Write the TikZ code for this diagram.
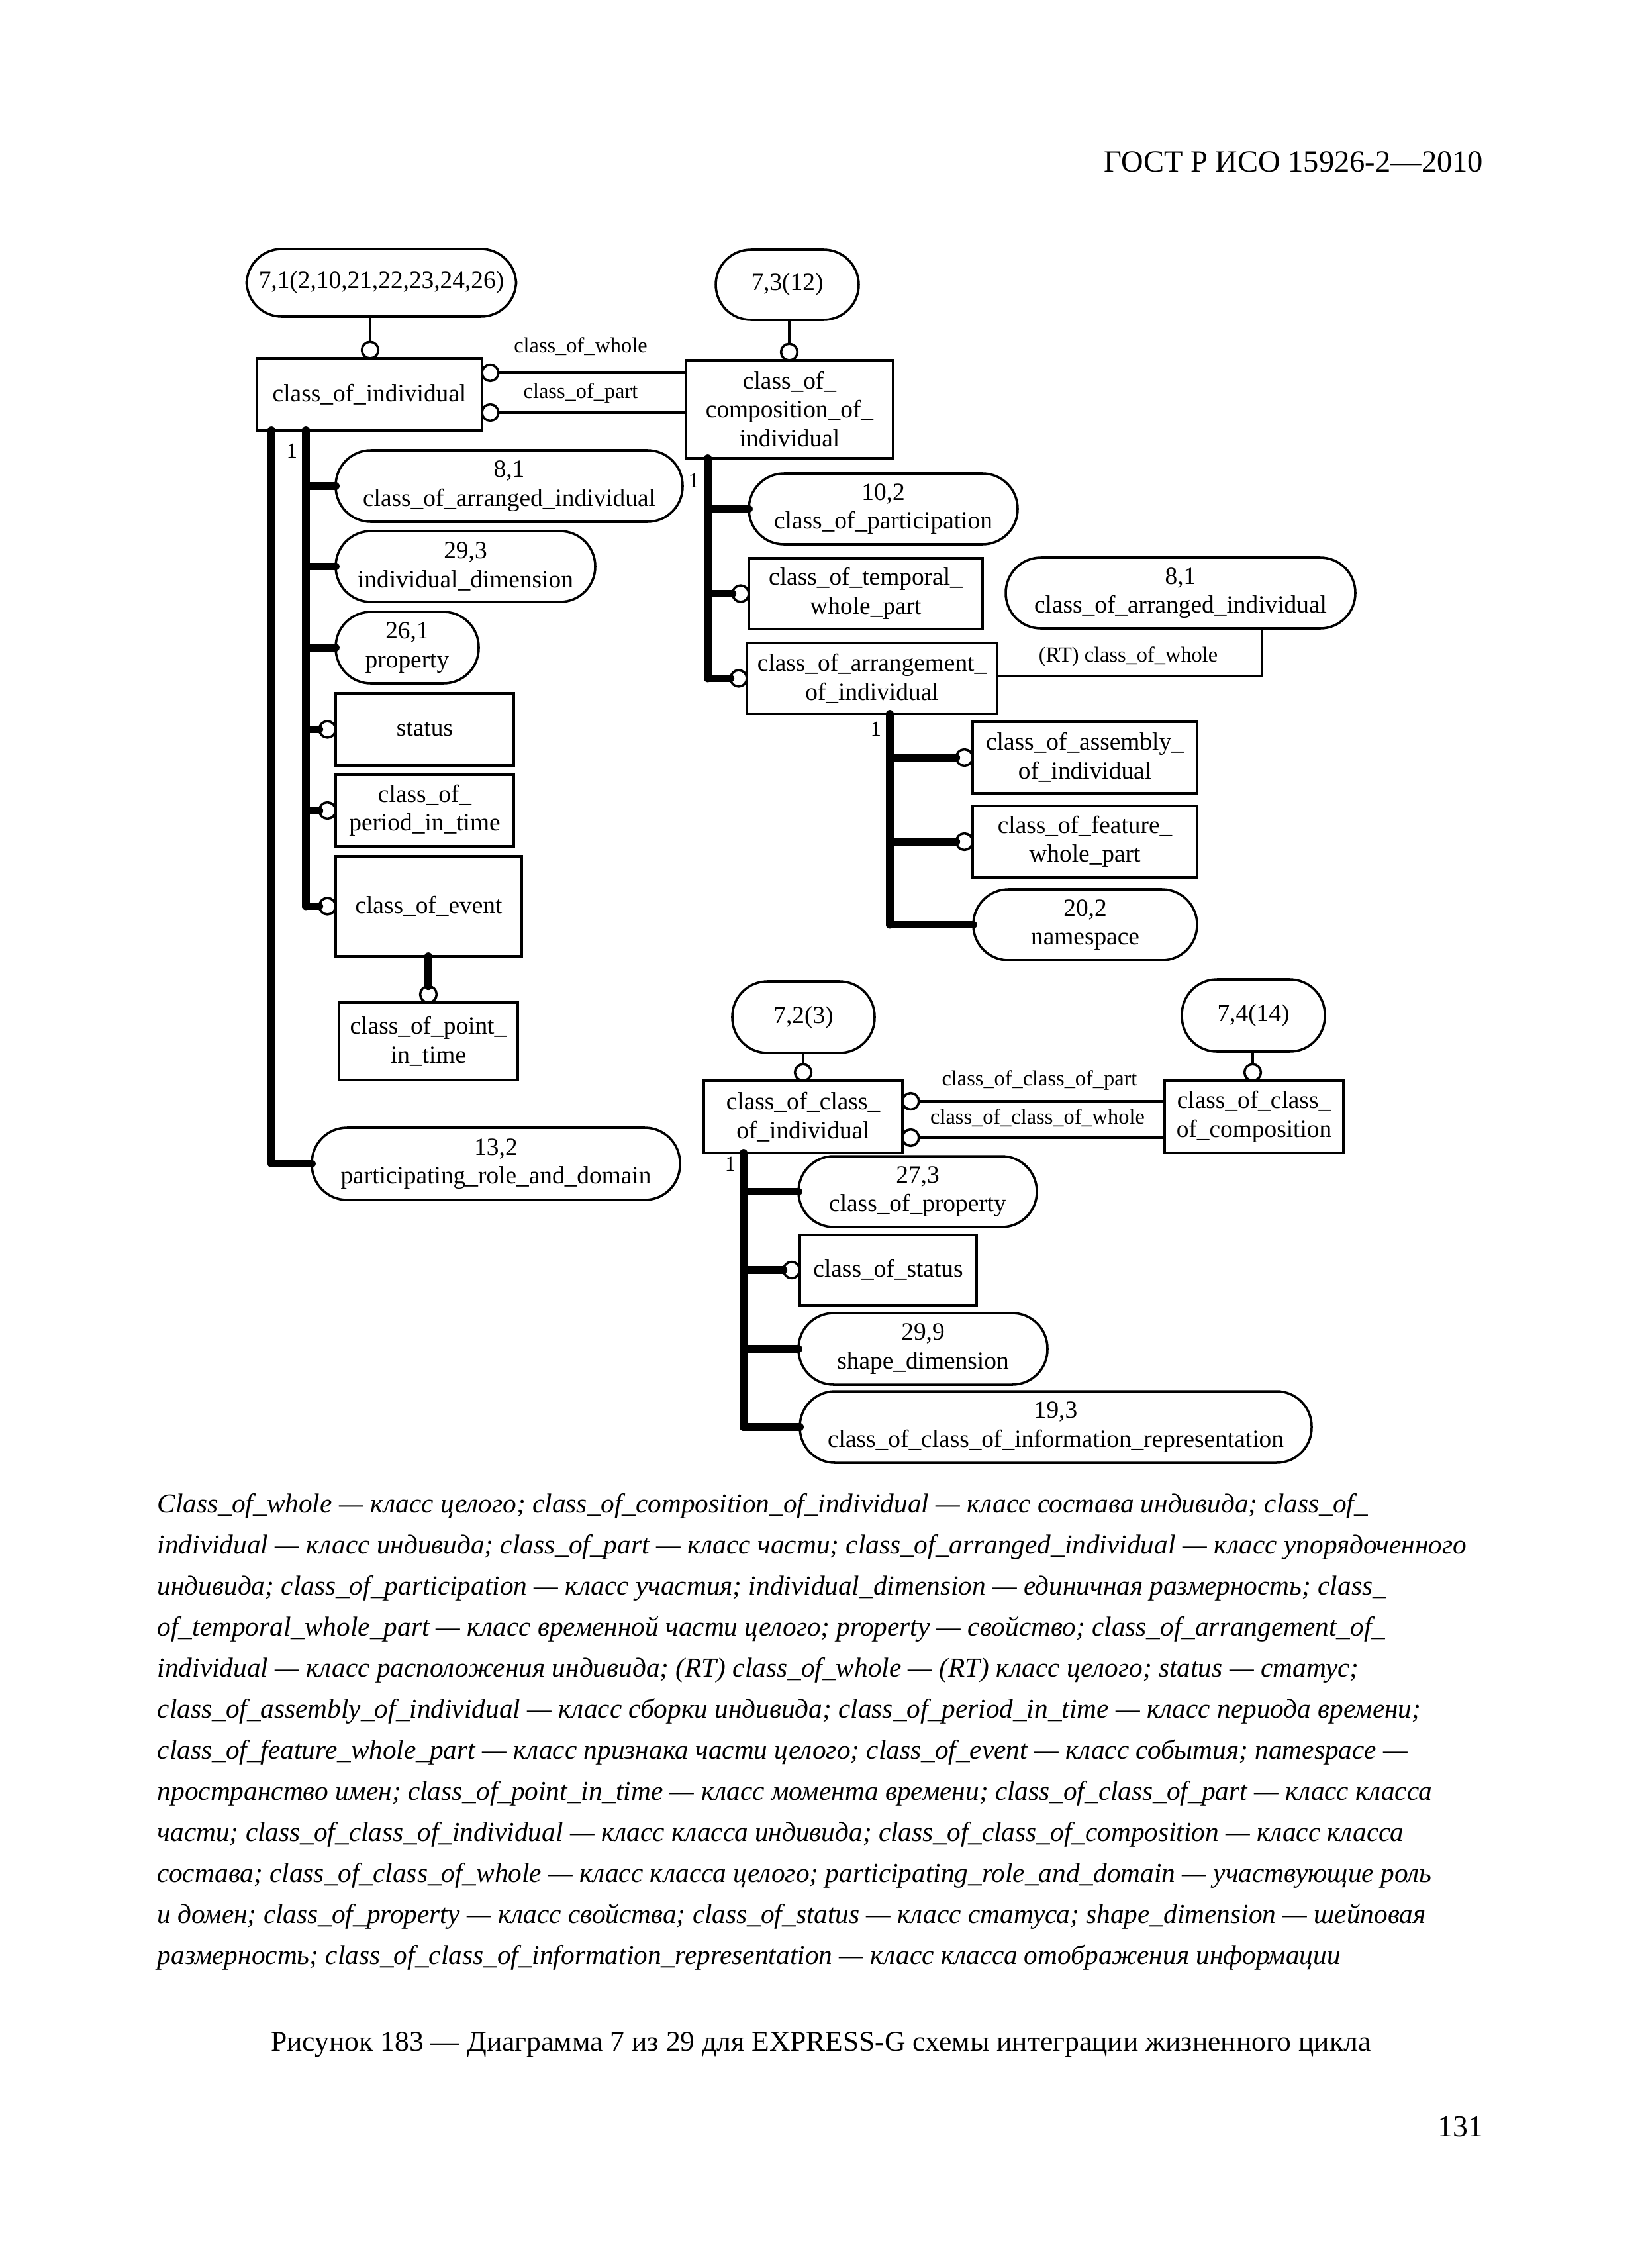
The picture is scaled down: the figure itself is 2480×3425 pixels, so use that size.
\documentclass[tikz,border=0pt]{standalone}
\usepackage{fontspec}
\setmainfont{Liberation Serif}
\newcommand{\dtext}{\fontsize{9}{10.5}\selectfont}
\newcommand{\stext}{\fontsize{7.8}{9}\selectfont}
\begin{document}
\begin{tikzpicture}[x=0.0846667mm, y=-0.0846667mm,
  ent/.style 2 args={draw, line width=0.3mm, rectangle, inner sep=0pt, outer sep=0pt,
     minimum width=#1*0.0846667mm, minimum height=#2*0.0846667mm, align=center, font=\dtext},
  refbox/.style 2 args={ent={#1}{#2}, rounded corners=4.5mm},
  circ/.style={circle, draw, fill=white, line width=0.3mm, inner sep=0pt, outer sep=0pt, minimum size=2.1mm},
  thinln/.style={line width=0.3mm},
  thickln/.style={line width=1mm, line cap=round, line join=round},
  lbl/.style={inner sep=0pt, font=\stext},
  leg/.style={anchor=base west, inner sep=0pt, font=\itshape\fontsize{9.95}{12}\selectfont}]
\useasboundingbox (0,0) rectangle (2480,3425);
\fill[white] (0,0) rectangle (2480,3425);

% header
\node[anchor=base east, inner sep=0pt, font=\fontsize{11.2}{13}\selectfont] (hdr) at (2241,259) {ГОСТ Р ИСО 15926-2—2010};

% ---------- group 1 ----------
\node[refbox={407}{102}] (e71) at (576,427) {7,1(2,10,21,22,23,24,26)};
\node[ent={340}{109}] (coi) at (558,595.5) {class\_of\_individual};
\node[circ, anchor=south] (c71) at (559,541) {};
\draw[thinln] (e71.south -| c71) -- (c71.north);

\node[ent={313}{148}] (comp) at (1192.5,618) {class\_of\_\\composition\_of\_\\individual};
\node[refbox={216}{106}] (e73) at (1189,430) {7,3(12)};
\node[circ, anchor=south] (c73) at (1192,544) {};
\draw[thinln] (e73.south -| c73) -- (c73.north);

\node[circ, anchor=west] (cw) at (728,563) {};
\node[circ, anchor=west] (cp) at (728,623) {};
\draw[thinln] (cw.east) -- (cw.east -| comp.west);
\draw[thinln] (cp.east) -- (cp.east -| comp.west);
\node[lbl] (lw) at (877,523) {class\_of\_whole};
\node[lbl] (lp) at (877,594) {class\_of\_part};

% children of class_of_individual
\node[refbox={524}{108}] (e81a) at (769,734) {8,1\\class\_of\_arranged\_individual};
\node[refbox={392}{107}] (e293) at (703,855.5) {29,3\\individual\_dimension};
\node[refbox={216}{108}] (e261) at (615,978) {26,1\\property};
\node[ent={269}{109}] (stat) at (641.5,1101.5) {status};
\node[ent={269}{108}] (per) at (641.5,1224) {class\_of\_\\period\_in\_time};
\node[ent={281}{151}] (evt) at (647.5,1368.5) {class\_of\_event};
\node[ent={270}{117}] (pit) at (647,1572.5) {class\_of\_point\_\\in\_time};
\node[refbox={556}{109}] (prd) at (749,1757.5) {13,2\\participating\_role\_and\_domain};

\node[circ, anchor=east] (cstat) at (stat.west) {};
\node[circ, anchor=east] (cper) at (per.west) {};
\node[circ, anchor=east] (cevt) at (evt.west) {};
\node[circ, anchor=south] (cpit) at (pit.north) {};

\coordinate (va) at (410,650);
\coordinate (vb) at (462,650);
\draw[thickln] (coi.south -| va) |- (prd.west);
\draw[thickln] (coi.south -| vb) -- (vb |- cevt.west);
\draw[thickln] (vb |- e81a.west) -- (e81a.west);
\draw[thickln] (vb |- e293.west) -- (e293.west);
\draw[thickln] (vb |- e261.west) -- (e261.west);
\draw[thickln] (vb |- cstat.west) -- (cstat.west);
\draw[thickln] (vb |- cper.west) -- (cper.west);
\draw[thickln] (vb |- cevt.west) -- (cevt.west);
\draw[thickln] (evt.south -| cpit) -- (cpit.north);
\node[lbl] (n1a) at (441,681) {1};

% children of class_of_composition_of_individual
\node[refbox={406}{107}] (e102) at (1334,768.5) {10,2\\class\_of\_participation};
\node[ent={353}{107}] (twp) at (1307.5,896.5) {class\_of\_temporal\_\\whole\_part};
\node[ent={378}{107}] (arr) at (1317,1024.5) {class\_of\_arrangement\_\\of\_individual};
\node[refbox={528}{107}] (e81b) at (1783,895.5) {8,1\\class\_of\_arranged\_individual};
\node[circ, anchor=east] (ctwp) at (twp.west) {};
\node[circ, anchor=east] (carr) at (arr.west) {};

\coordinate (vc) at (1069,692);
\draw[thickln] (comp.south -| vc) -- (vc |- carr.west);
\draw[thickln] (vc |- e102.west) -- (e102.west);
\draw[thickln] (vc |- ctwp.west) -- (ctwp.west);
\draw[thickln] (vc |- carr.west) -- (carr.west);
\node[lbl] (n1b) at (1048,726) {1};

\coordinate (rt) at (1906,1021);
\draw[thinln] (arr.east |- rt) -- (rt) -- (rt |- e81b.south);
\node[lbl] (lrt) at (1704,992) {(RT) class\_of\_whole};

% children of class_of_arrangement_of_individual
\node[ent={339}{108}] (asy) at (1638.5,1144) {class\_of\_assembly\_\\of\_individual};
\node[ent={339}{108}] (fwp) at (1638.5,1271) {class\_of\_feature\_\\whole\_part};
\node[refbox={338}{107}] (e202) at (1639,1396.5) {20,2\\namespace};
\node[circ, anchor=east] (casy) at (asy.west) {};
\node[circ, anchor=east] (cfwp) at (fwp.west) {};

\coordinate (vd) at (1344,1078);
\draw[thickln] (arr.south -| vd) -- (vd |- e202.west);
\draw[thickln] (vd |- casy.west) -- (casy.west);
\draw[thickln] (vd |- cfwp.west) -- (cfwp.west);
\draw[thickln] (vd |- e202.west) -- (e202.west);
\node[lbl] (n1c) at (1323,1101) {1};

% ---------- group 2 ----------
\node[refbox={215}{108}] (e72) at (1213.5,1536) {7,2(3)};
\node[ent={300}{109}] (cci) at (1213,1686.5) {class\_of\_class\_\\of\_individual};
\node[circ, anchor=south] (c72) at (1213,1632) {};
\draw[thinln] (e72.south -| c72) -- (c72.north);

\node[refbox={216}{109}] (e74) at (1893,1533.5) {7,4(14)};
\node[ent={270}{109}] (ccc) at (1894,1686.5) {class\_of\_class\_\\of\_composition};
\node[circ, anchor=south] (c74) at (1892,1632) {};
\draw[thinln] (e74.south -| c74) -- (c74.north);

\node[circ, anchor=west] (ccp) at (1363,1663) {};
\node[circ, anchor=west] (ccw) at (1363,1718) {};
\draw[thinln] (ccp.east) -- (ccp.east -| ccc.west);
\draw[thinln] (ccw.east) -- (ccw.east -| ccc.west);
\node[lbl] (lcp) at (1570,1632) {class\_of\_class\_of\_part};
\node[lbl] (lcw) at (1567,1688) {class\_of\_class\_of\_whole};

\node[refbox={360}{107}] (e273) at (1386,1799.5) {27,3\\class\_of\_property};
\node[ent={267}{106}] (cst) at (1341.5,1918) {class\_of\_status};
\node[refbox={376}{108}] (e299) at (1394,2037) {29,9\\shape\_dimension};
\node[refbox={773}{108}] (e193) at (1594.5,2155) {19,3\\class\_of\_class\_of\_information\_representation};
\node[circ, anchor=east] (ccst) at (cst.west) {};

\coordinate (ve) at (1123,1741);
\draw[thickln] (cci.south -| ve) -- (ve |- e193.west);
\draw[thickln] (ve |- e273.west) -- (e273.west);
\draw[thickln] (ve |- ccst.west) -- (ccst.west);
\draw[thickln] (ve |- e299.west) -- (e299.west);
\draw[thickln] (ve |- e193.west) -- (e193.west);
\node[lbl] (n1d) at (1103,1758) {1};

% ---------- legend ----------
\node[leg] (l1) at (237,2284) {Class\_of\_whole — класс целого; class\_of\_composition\_of\_individual — класс состава индивида; class\_of\_};
\node[leg] (l2) at (237,2346) {individual — класс индивида; class\_of\_part — класс части; class\_of\_arranged\_individual — класс упорядоченного};
\node[leg] (l3) at (237,2408) {индивида; class\_of\_participation — класс участия; individual\_dimension — единичная размерность; class\_};
\node[leg] (l4) at (237,2470) {of\_temporal\_whole\_part — класс временной части целого; property — свойство; class\_of\_arrangement\_of\_};
\node[leg] (l5) at (237,2532) {individual — класс расположения индивида; (RT) class\_of\_whole — (RT) класс целого; status — статус;};
\node[leg] (l6) at (237,2594) {class\_of\_assembly\_of\_individual — класс сборки индивида; class\_of\_period\_in\_time — класс периода времени;};
\node[leg] (l7) at (237,2656) {class\_of\_feature\_whole\_part — класс признака части целого; class\_of\_event — класс события; namespace —};
\node[leg] (l8) at (237,2718) {пространство имен; class\_of\_point\_in\_time — класс момента времени; class\_of\_class\_of\_part — класс класса};
\node[leg] (l9) at (237,2780) {части; class\_of\_class\_of\_individual — класс класса индивида; class\_of\_class\_of\_composition — класс класса};
\node[leg] (l10) at (237,2842) {состава; class\_of\_class\_of\_whole — класс класса целого; participating\_role\_and\_domain — участвующие роль};
\node[leg] (l11) at (237,2904) {и домен; class\_of\_property — класс свойства; class\_of\_status — класс статуса; shape\_dimension — шейповая};
\node[leg] (l12) at (237,2966) {размерность; class\_of\_class\_of\_information\_representation — класс класса отображения информации};

% caption and page number
\node[anchor=base, inner sep=0pt, font=\fontsize{10.5}{12}\selectfont] (cap) at (1240,3097) {Рисунок 183 — Диаграмма 7 из 29 для EXPRESS-G схемы интеграции жизненного цикла};
\node[anchor=base east, inner sep=0pt, font=\fontsize{11}{13}\selectfont] (pg) at (2241,3226) {131};
\end{tikzpicture}
\end{document}
